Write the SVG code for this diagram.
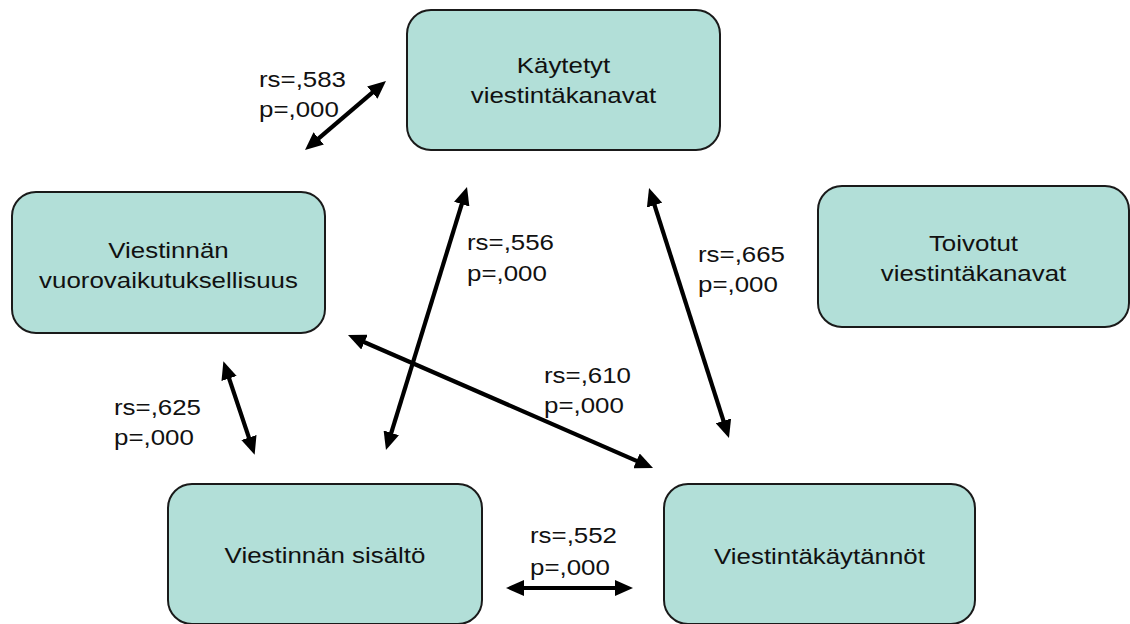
<svg xmlns="http://www.w3.org/2000/svg" width="1130" height="624" viewBox="0 0 1130 624">
  <style>
    .box { fill: #b2dfd8; stroke: #1a1a1a; stroke-width: 2; }
    .t { font-family: "Liberation Sans", Arial, sans-serif; font-size: 22.5px; fill: #111; }
    .c { text-anchor: middle; }
    .link { stroke: #000; stroke-width: 4.2; fill: none; marker-start: url(#head); marker-end: url(#head); }
  </style>
  <defs>
    <marker id="head" viewBox="0 0 18 16" refX="5" refY="8" markerWidth="18" markerHeight="16" markerUnits="userSpaceOnUse" orient="auto-start-reverse">
      <path d="M0,0 L18,8 L0,16 z" fill="#000"/>
    </marker>
  </defs>
  <rect width="1130" height="624" fill="#fff"/>

  <g id="kaytetyt">
    <rect class="box" x="407" y="10" width="313" height="140" rx="24"/>
    <text class="t c" transform="translate(563.5,73) scale(1.15,1)">Käytetyt</text>
    <text class="t c" transform="translate(563.5,103) scale(1.15,1)">viestintäkanavat</text>
  </g>

  <g id="vuorovaikutuksellisuus">
    <rect class="box" x="12" y="192" width="313" height="141" rx="24"/>
    <text class="t c" transform="translate(168.5,258) scale(1.15,1)">Viestinnän</text>
    <text class="t c" transform="translate(168.5,288) scale(1.15,1)">vuorovaikutuksellisuus</text>
  </g>

  <g id="toivotut">
    <rect class="box" x="818" y="186" width="311" height="141" rx="24"/>
    <text class="t c" transform="translate(973.5,251) scale(1.15,1)">Toivotut</text>
    <text class="t c" transform="translate(973.5,281) scale(1.15,1)">viestintäkanavat</text>
  </g>

  <g id="sisalto">
    <rect class="box" x="168" y="484" width="314" height="140" rx="24"/>
    <text class="t c" transform="translate(325,563) scale(1.15,1)">Viestinnän sisältö</text>
  </g>

  <g id="kaytannot">
    <rect class="box" x="664" y="484" width="311" height="140" rx="24"/>
    <text class="t c" transform="translate(819.5,564) scale(1.15,1)">Viestintäkäytännöt</text>
  </g>

  <!-- two-headed correlation links; line ends sit 13px inside each tip -->
  <g id="connectors">
    <line class="link" x1="314.9" y1="141.6" x2="376.1" y2="89.4"/>
    <line class="link" x1="463.2" y1="199.4" x2="389.8" y2="437.6"/>
    <line class="link" x1="653" y1="200.4" x2="725" y2="425.6"/>
    <line class="link" x1="359.9" y1="340.2" x2="641.1" y2="462.8"/>
    <line class="link" x1="227.5" y1="373.7" x2="250.5" y2="442.3"/>
    <line class="link" x1="519" y1="588" x2="620" y2="588"/>
  </g>

  <g id="labels">
    <text class="t" transform="translate(259,87) scale(1.15,1)">rs=,583</text>
    <text class="t" transform="translate(259,117) scale(1.15,1)">p=,000</text>
    <text class="t" transform="translate(467,250) scale(1.15,1)">rs=,556</text>
    <text class="t" transform="translate(467,281) scale(1.15,1)">p=,000</text>
    <text class="t" transform="translate(698,262) scale(1.15,1)">rs=,665</text>
    <text class="t" transform="translate(698,292) scale(1.15,1)">p=,000</text>
    <text class="t" transform="translate(544,383) scale(1.15,1)">rs=,610</text>
    <text class="t" transform="translate(544,413) scale(1.15,1)">p=,000</text>
    <text class="t" transform="translate(114,415) scale(1.15,1)">rs=,625</text>
    <text class="t" transform="translate(114,445) scale(1.15,1)">p=,000</text>
    <text class="t" transform="translate(530,543) scale(1.15,1)">rs=,552</text>
    <text class="t" transform="translate(530,575) scale(1.15,1)">p=,000</text>
  </g>
</svg>
